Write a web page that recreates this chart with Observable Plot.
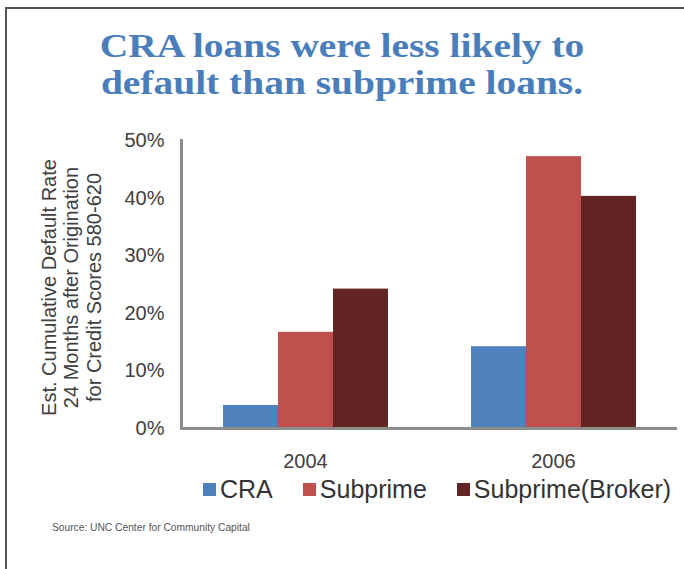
<!DOCTYPE html>
<html>
<head>
<meta charset="utf-8">
<script src="https://cdn.jsdelivr.net/npm/d3@7"></script>
<script src="https://cdn.jsdelivr.net/npm/@observablehq/plot@0.6"></script>
<style>
  body { margin: 0; background: #fff; }
  #page { position: relative; width: 684px; height: 569px; background: #fff; overflow: hidden; }
  .bt { position: absolute; left: 5px; top: 7px; right: 0; height: 2px; background: #555; }
  .bl { position: absolute; left: 5px; top: 7px; bottom: 0; width: 2px; background: #555; }
  #title { position: absolute; left: 0; top: 27px; width: 684px; text-align: center;
    font-family: "Liberation Serif", serif; font-weight: bold; font-size: 34px; line-height: 37px; color: #4a7ebb;
    transform: scaleX(1.16); transform-origin: 342px 0; }
  #chart { position: absolute; left: 0; top: 120px; }
  #legend { position: absolute; left: 203px; top: 475px; display: flex; align-items: center;
    font-family: "Liberation Sans", Arial, sans-serif; font-size: 25px; line-height: 28px; color: #333; }
  #legend .item { display: flex; align-items: center; margin-right: 30px; }
  #legend .sw { width: 13px; height: 13px; margin-right: 4px; }
  #source { position: absolute; left: 52px; top: 521px; font-family: "Liberation Sans", Arial, sans-serif;
    font-size: 11px; color: #555; white-space: nowrap; transform: scaleX(0.93); transform-origin: 0 0; }
</style>
</head>
<body>
<div id="page">
  <div class="bt"></div>
  <div class="bl"></div>
  <div id="title"></div>
  <div id="chart"></div>
  <div id="legend"></div>
  <div id="source"></div>
</div>
<script>
const titleLines = ["CRA loans were less likely to", "default than subprime loans."];
const years = ["2004", "2006"];
const series = ["CRA", "Subprime", "Subprime(Broker)"];
const cra = [0.040, 0.142];
const subprime = [0.167, 0.472];
const broker = [0.242, 0.403];
const colors = ["#4f81bd", "#c0504d", "#632523"];
const yTicks = [0, 0.1, 0.2, 0.3, 0.4, 0.5];
const yLabel = ["Est. Cumulative Default Rate", "24 Months after Origination", "for Credit Scores 580-620"];
const sourceText = "Source: UNC Center for Community Capital";

const data = years.flatMap((year, i) =>
  [cra[i], subprime[i], broker[i]].map((value, j) => ({year, series: series[j], value}))
);

document.getElementById("title").innerHTML = titleLines.join("<br>");
document.getElementById("source").textContent = sourceText;

const chart = Plot.plot({
  width: 684,
  height: 362,
  marginLeft: 180,
  marginRight: 7,
  marginTop: 20,
  marginBottom: 54,
  style: {fontFamily: "'Liberation Sans', Arial, sans-serif", color: "#404040", background: "transparent"},
  fx: {domain: years, padding: 0, label: null},
  x: {domain: series, paddingInner: 0, paddingOuter: 0.74, axis: null},
  y: {domain: [0, 0.5], axis: null},
  color: {domain: series, range: colors},
  marks: [
    Plot.barY(data, {fx: "year", x: "series", y: "value", fill: "series"}),
    Plot.ruleY([0], {stroke: "#8c8c8c", strokeWidth: 3}),
    Plot.frame({anchor: "left", facetAnchor: "left", stroke: "#8c8c8c", strokeWidth: 3}),
    Plot.axisY({ticks: yTicks, tickFormat: d3.format(".0%"), tickSize: 0, tickPadding: 17, fontSize: 20, label: null}),
    Plot.text([yLabel.join("\n")], {
      frameAnchor: "left", facetAnchor: "left", rotate: -90, textAnchor: "middle", lineAnchor: "top",
      lineHeight: 1.13, fontSize: 20, fill: "#404040", dx: -142, dy: 3
    }),
    Plot.axisFx({anchor: "bottom", tickSize: 0, tickPadding: 25, fontSize: 20, label: null})
  ]
});
document.getElementById("chart").appendChild(chart);

const legend = document.getElementById("legend");
series.forEach((s, i) => {
  const item = document.createElement("div");
  item.className = "item";
  const sw = document.createElement("div");
  sw.className = "sw";
  sw.style.background = colors[i];
  const t = document.createElement("span");
  t.textContent = s;
  item.appendChild(sw);
  item.appendChild(t);
  legend.appendChild(item);
});
</script>
</body>
</html>
